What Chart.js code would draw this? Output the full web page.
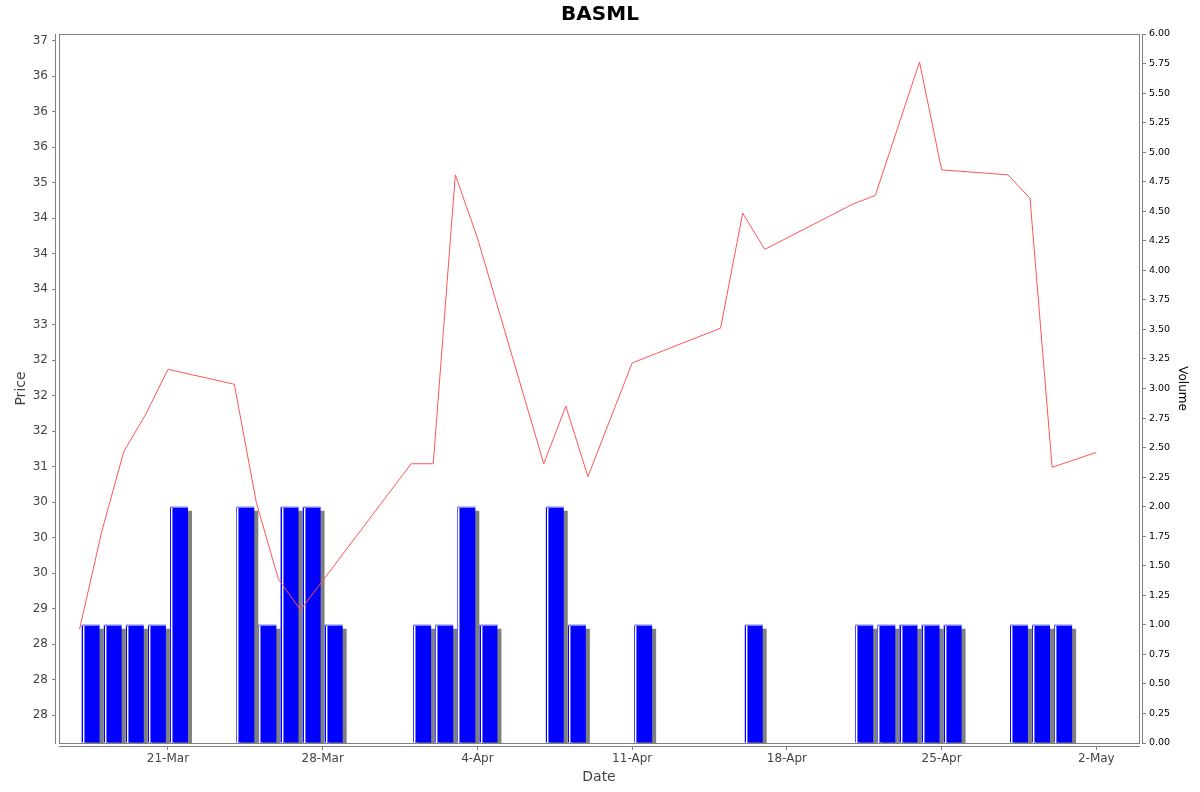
<!DOCTYPE html>
<html>
<head>
<meta charset="utf-8">
<title>BASML</title>
<script src="https://cdn.jsdelivr.net/npm/chart.js@4.4.1/dist/chart.umd.min.js"></script>
<style>
    html, body { margin: 0; padding: 0; background: #fff; }
    canvas { display: block; }
</style>
</head>
<body>
<canvas id="myChart" width="1200" height="792"></canvas>
<script>
// Price line (one point per trading day)
const priceDates = [
    "2025-03-17", "2025-03-18", "2025-03-19", "2025-03-20", "2025-03-21",
    "2025-03-24", "2025-03-25", "2025-03-26", "2025-03-27",
    "2025-04-01", "2025-04-02", "2025-04-03", "2025-04-04",
    "2025-04-07", "2025-04-08", "2025-04-09", "2025-04-11",
    "2025-04-15", "2025-04-16", "2025-04-17",
    "2025-04-21", "2025-04-22", "2025-04-24", "2025-04-25",
    "2025-04-28", "2025-04-29", "2025-04-30", "2025-05-02"
];
const priceValues = [
    28.71, 30.08, 31.21, 31.74, 32.37,
    32.16, 30.49, 29.41, 28.98,
    31.04, 31.04, 35.11, 34.22,
    31.04, 31.85, 30.86, 32.46,
    32.95, 34.57, 34.06,
    34.70, 34.82, 36.70, 35.18,
    35.11, 34.78, 30.99, 31.20
];

// Volume bars
const volumeDates = [
    "2025-03-17", "2025-03-18", "2025-03-19", "2025-03-20", "2025-03-21",
    "2025-03-24", "2025-03-25", "2025-03-26", "2025-03-27", "2025-03-28",
    "2025-04-01", "2025-04-02", "2025-04-03", "2025-04-04",
    "2025-04-07", "2025-04-08", "2025-04-11", "2025-04-16",
    "2025-04-21", "2025-04-22", "2025-04-23", "2025-04-24", "2025-04-25",
    "2025-04-28", "2025-04-29", "2025-04-30"
];
const volumeValues = [
    1, 1, 1, 1, 2,
    2, 1, 2, 2, 1,
    1, 1, 2, 1,
    2, 1, 1, 1,
    1, 1, 1, 1, 1,
    1, 1, 1
];

// Axes
const xTickDates = ["2025-03-21", "2025-03-28", "2025-04-04", "2025-04-11", "2025-04-18", "2025-04-25", "2025-05-02"];
const xTickLabels = ["21-Mar", "28-Mar", "4-Apr", "11-Apr", "18-Apr", "25-Apr", "2-May"];
const priceTicks = [27.5, 28, 28.5, 29, 29.5, 30, 30.5, 31, 31.5, 32, 32.5, 33, 33.5, 34, 34.5, 35, 35.5, 36, 36.5, 37];
const priceTickLabels = ["28", "28", "28", "29", "30", "30", "30", "31", "32", "32", "32", "33", "34", "34", "34", "35", "36", "36", "36", "37"];

// date string -> day number
const toDay = s => Date.parse(s + "T00:00:00Z") / 86400000;

Chart.defaults.font.family = "'DejaVu Sans', sans-serif";

// gray drop shadow + light edges on the volume bars
const barLook = {
    id: "barLook",
    beforeDatasetDraw(chart, args) {
        if (args.meta.type !== "bar") return;
        const ctx = chart.ctx;
        ctx.save();
        ctx.shadowColor = "#808080";
        ctx.shadowOffsetX = 4;
        ctx.shadowOffsetY = 4;
        ctx.shadowBlur = 0;
    },
    afterDatasetDraw(chart, args) {
        if (args.meta.type !== "bar") return;
        const ctx = chart.ctx;
        ctx.restore();
        ctx.save();
        args.meta.data.forEach(el => {
            const p = el.getProps(["x", "y", "base", "width"], true);
            const left = Math.round(p.x - p.width / 2);
            const w = Math.round(p.width);
            ctx.fillStyle = "#8080ff";
            ctx.fillRect(left, Math.round(p.y), w, 1);
            ctx.fillStyle = "#ffffff";
            ctx.fillRect(left + 1, Math.round(p.y) + 1, 1, p.base - p.y);
            ctx.fillStyle = "#7070ff";
            ctx.fillRect(left + 2, Math.round(p.y) + 1, 1, p.base - p.y);
        });
        ctx.restore();
    }
};

// plot outline and axis lines set a few pixels away from it
const plotFrame = {
    id: "plotFrame",
    afterDatasetsDraw(chart) {
        const ctx = chart.ctx;
        const a = chart.chartArea;
        ctx.save();
        ctx.strokeStyle = "#808080";
        ctx.lineWidth = 1;
        ctx.strokeRect(a.left + 0.5, a.top + 0.5, a.right - a.left, a.bottom - a.top);
        ctx.beginPath();
        ctx.moveTo(a.left - 3.5, a.top);
        ctx.lineTo(a.left - 3.5, a.bottom + 1);
        ctx.moveTo(a.right + 3.5, a.top);
        ctx.lineTo(a.right + 3.5, a.bottom + 1);
        ctx.moveTo(a.left, a.bottom + 3.5);
        ctx.lineTo(a.right + 1, a.bottom + 3.5);
        ctx.stroke();
        ctx.restore();
    }
};

const ctx = document.getElementById("myChart").getContext("2d");

new Chart(ctx, {
    type: "line",
    data: {
        datasets: [
            {
                type: "line",
                label: "Price",
                data: priceDates.map((d, i) => ({ x: toDay(d), y: priceValues[i] })),
                xAxisID: "x",
                yAxisID: "y",
                borderColor: "#ff5555",
                borderWidth: 1,
                pointRadius: 0,
                tension: 0,
                fill: false,
                order: 0
            },
            {
                type: "bar",
                label: "Volume",
                // bar spans the whole trading day
                data: volumeDates.map((d, i) => ({ x: toDay(d) + 0.5, y: volumeValues[i] })),
                xAxisID: "x",
                yAxisID: "y1",
                backgroundColor: "#0000ff",
                borderWidth: 0,
                categoryPercentage: 1,
                barPercentage: 0.81,
                clip: 0,
                order: 1
            }
        ]
    },
    options: {
        responsive: false,
        animation: false,
        devicePixelRatio: 1,
        layout: { padding: 0 },
        plugins: {
            legend: { display: false },
            tooltip: { enabled: false },
            title: {
                display: true,
                text: "BASML",
                color: "#000",
                font: { size: 20, weight: "bold" },
                padding: { top: 3, bottom: 7 }
            }
        },
        scales: {
            x: {
                type: "linear",
                position: "bottom",
                min: toDay("2025-03-16") + 0.07,
                max: toDay("2025-05-03") + 0.93,
                offset: false,
                afterFit: s => { s.height = 49; },
                afterBuildTicks: s => { s.ticks = xTickDates.map(d => ({ value: toDay(d) })); },
                border: { display: false },
                grid: {
                    offset: false,
                    drawOnChartArea: false,
                    tickLength: 7,
                    tickColor: "#808080",
                    tickBorderDash: [4, 3],
                    tickBorderDashOffset: 4
                },
                ticks: {
                    autoSkip: false,
                    maxRotation: 0,
                    padding: 2,
                    color: "#444",
                    font: { size: 12 },
                    callback: (v, i) => xTickLabels[i]
                },
                title: {
                    display: true,
                    text: "Date",
                    color: "#444",
                    font: { size: 14 },
                    padding: { top: 0, bottom: 6 }
                }
            },
            y: {
                type: "linear",
                position: "left",
                min: 27.106,
                max: 37.094,
                afterFit: s => { s.width = 59; },
                afterBuildTicks: s => { s.ticks = priceTicks.map(v => ({ value: v })); },
                border: { display: false },
                grid: {
                    drawOnChartArea: false,
                    tickLength: 7,
                    tickColor: "#808080",
                    tickBorderDash: [4, 3]
                },
                ticks: {
                    autoSkip: false,
                    padding: 4,
                    color: "#444",
                    font: { size: 12 },
                    callback: (v, i) => priceTickLabels[i]
                },
                title: {
                    display: true,
                    text: "Price",
                    color: "#444",
                    font: { size: 14 },
                    padding: { top: 12.5, bottom: 0 }
                }
            },
            y1: {
                type: "linear",
                position: "right",
                min: 0,
                max: 6,
                afterFit: s => { s.width = 61; },
                border: { display: false },
                grid: {
                    drawOnChartArea: false,
                    tickLength: 7,
                    tickColor: "#808080",
                    tickBorderDash: [4, 3],
                    tickBorderDashOffset: 4
                },
                ticks: {
                    autoSkip: false,
                    stepSize: 0.25,
                    padding: 3,
                    color: "#000",
                    font: { size: 9.5 },
                    callback: v => v.toFixed(2)
                },
                title: {
                    display: true,
                    text: "Volume",
                    color: "#000",
                    font: { size: 12 },
                    padding: { top: 11, bottom: 0 }
                }
            }
        }
    },
    plugins: [barLook, plotFrame]
});
</script>
</body>
</html>
